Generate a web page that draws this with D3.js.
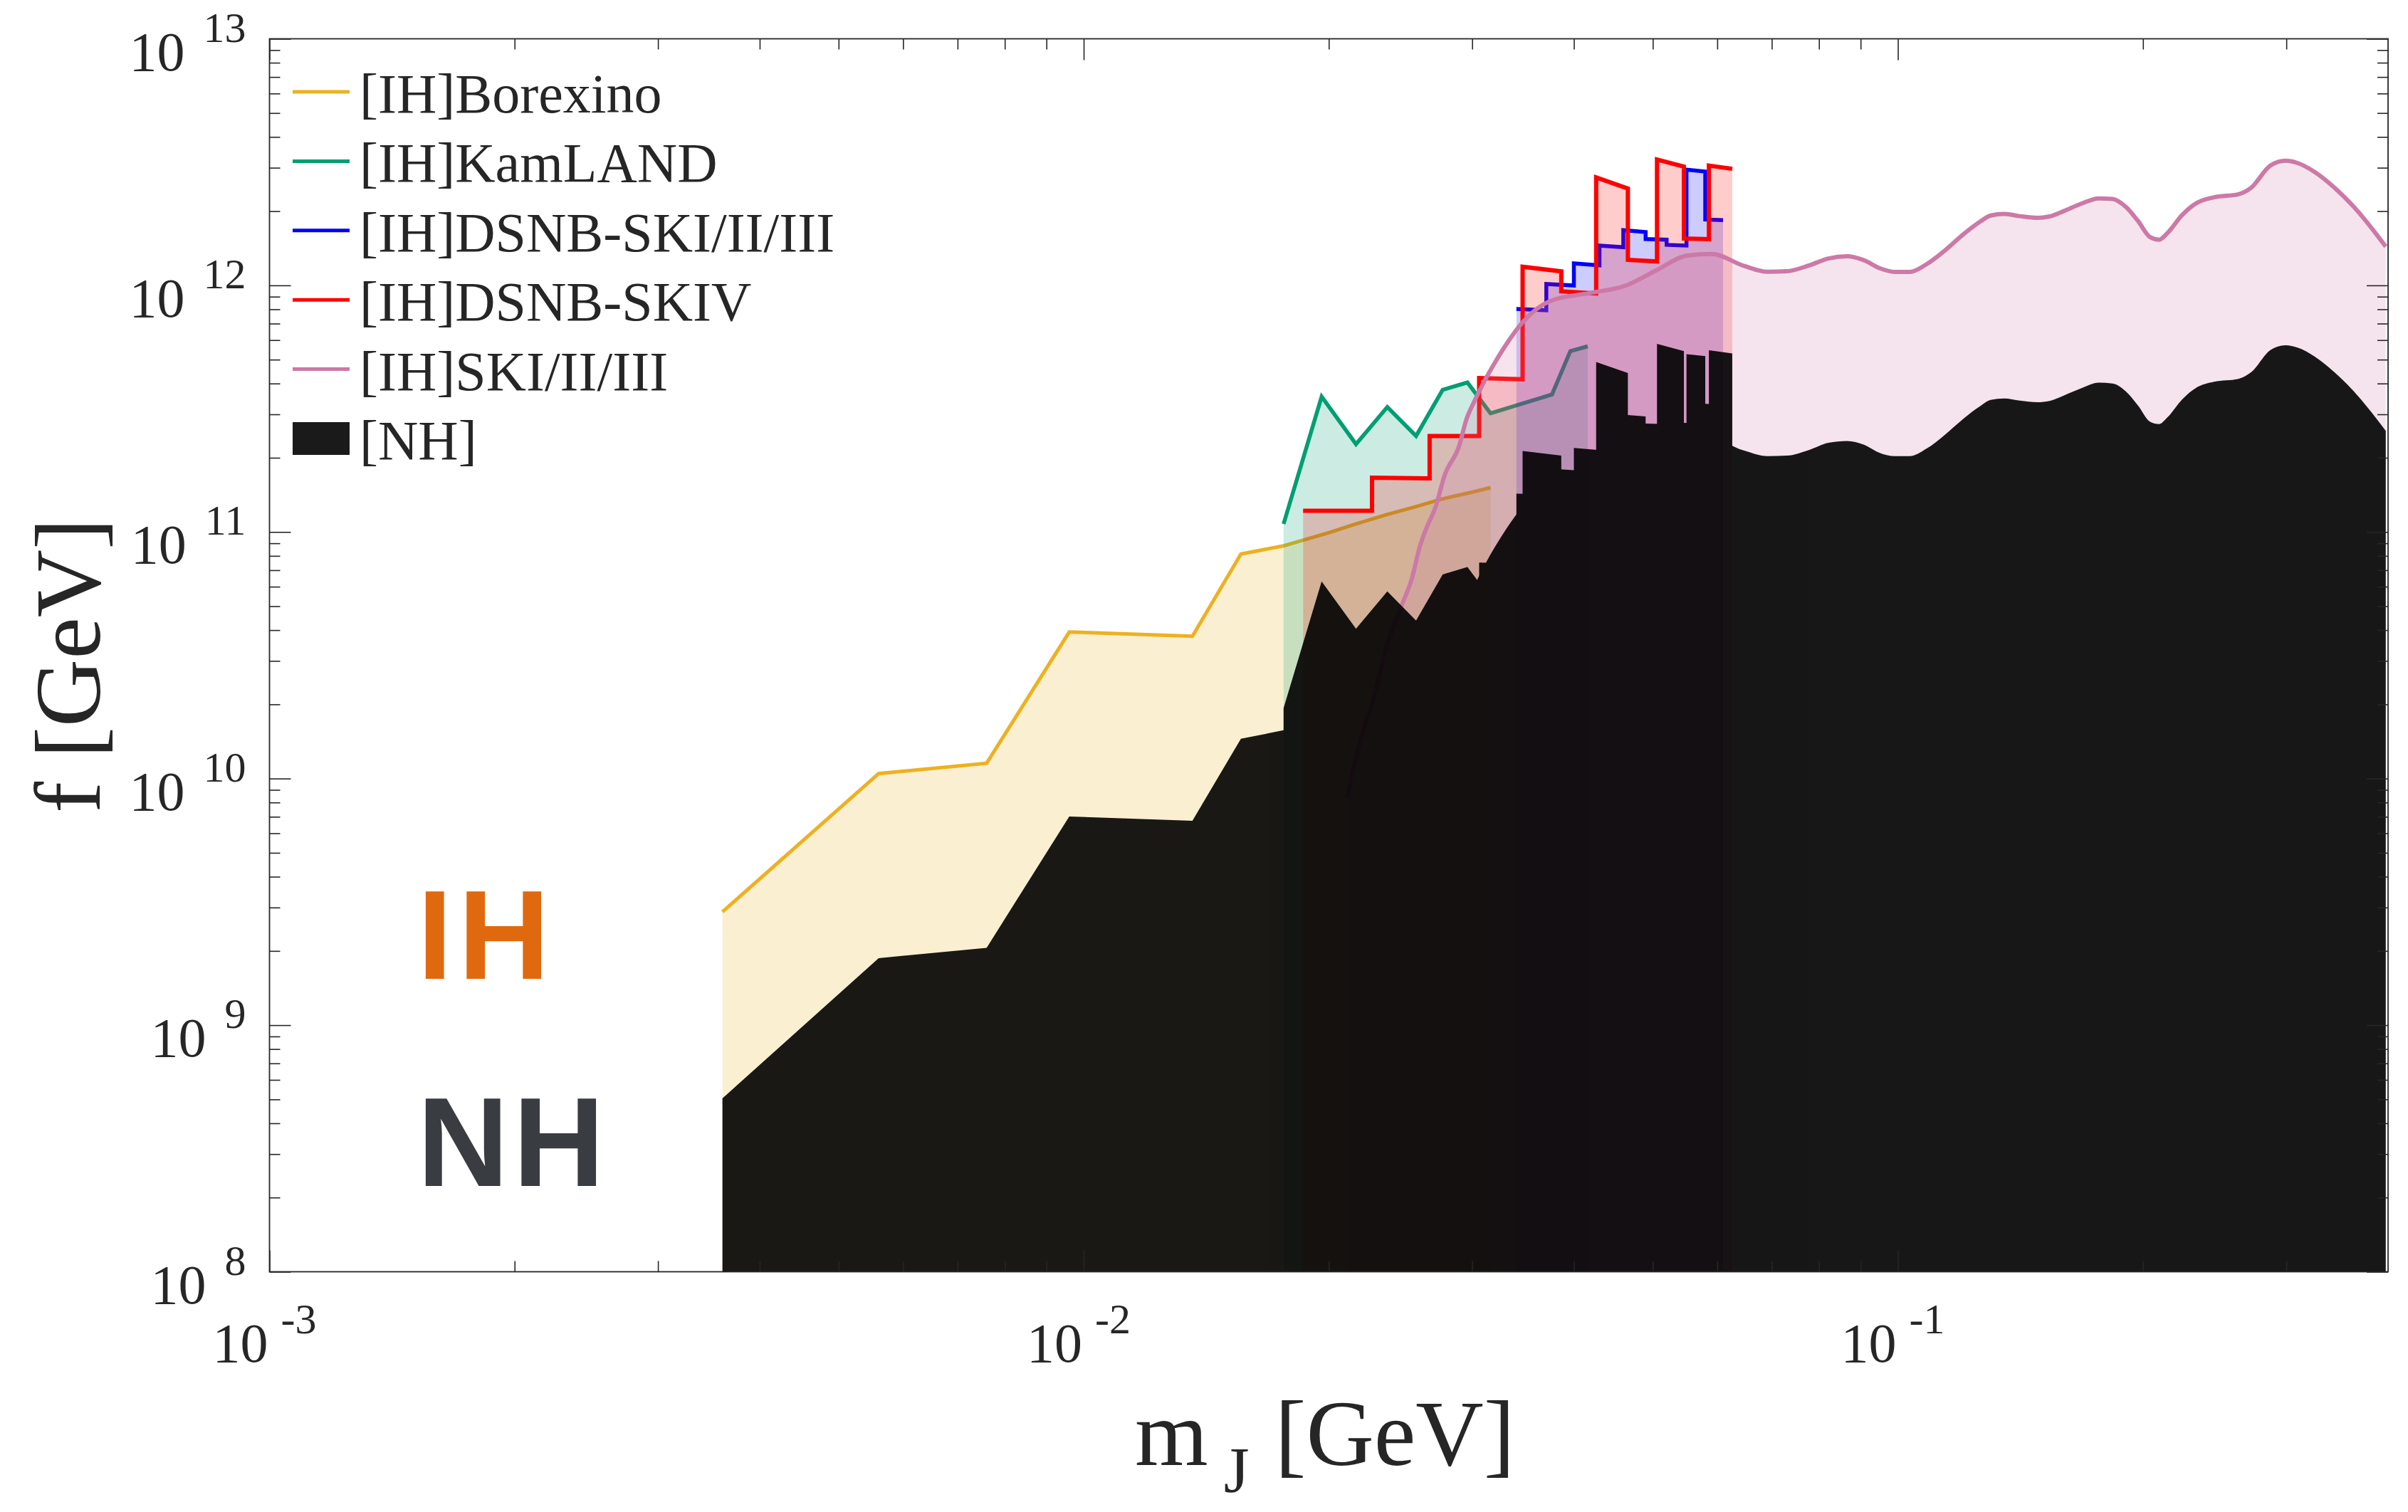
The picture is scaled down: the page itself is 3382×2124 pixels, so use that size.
<!DOCTYPE html>
<html>
<head>
<meta charset="utf-8">
<script src="https://cdn.jsdelivr.net/npm/d3@7"></script>
<style>
html, body { margin: 0; padding: 0; background: #fff; }
text { font-family: "Liberation Serif", "Times New Roman", serif; fill: #262626; }
</style>
</head>
<body>
<svg id="chart" width="3382" height="2124"></svg>
<script>
// ---- data (m_J in GeV, f in GeV) ----
const seriesNames = ["[IH]Borexino", "[IH]KamLAND", "[IH]DSNB-SKI/II/III", "[IH]DSNB-SKIV", "[IH]SKI/II/III", "[NH]"];
const seriesColors = ["#EDB120", "#009E73", "#0000FF", "#FF0000", "#CC79A7"];
const xDomain = [1e-3, 0.4];
const yDomain = [1e8, 1e13];
const xMajor = [1e-3, 1e-2, 1e-1];
const yMajor = [1e8, 1e9, 1e10, 1e11, 1e12, 1e13];
const xExponents = ["-3", "-2", "-1"];
const yExponents = ["8", "9", "10", "11", "12", "13"];

const borexinoIH = [[0.0036, 2.88e9], [0.0056, 1.048e10], [0.0076, 1.154e10], [0.0096, 3.93e10], [0.0136, 3.78e10],
  [0.0156, 8.14e10], [0.0176, 8.79e10], [0.0200, 9.93e10], [0.0214, 1.069e11], [0.0236, 1.178e11],
  [0.0256, 1.267e11], [0.0276, 1.363e11], [0.0299, 1.447e11], [0.0316, 1.513e11]];
const borexinoNH = [[0.0036, 5.05e8], [0.0056, 1.87e9], [0.0076, 2.06e9], [0.0096, 7.02e9], [0.0136, 6.74e9],
  [0.0156, 1.45e10], [0.0176, 1.57e10], [0.0200, 1.77e10], [0.0214, 1.91e10], [0.0236, 2.10e10],
  [0.0256, 2.26e10], [0.0276, 2.43e10], [0.0299, 2.58e10], [0.0316, 2.70e10]];

const kamlandIH = [[0.0176, 1.078e11], [0.0196, 3.54e11], [0.0216, 2.27e11], [0.0236, 3.21e11], [0.0256, 2.45e11],
  [0.0276, 3.77e11], [0.0296, 4.04e11], [0.0316, 3.03e11], [0.0376, 3.61e11], [0.0396, 5.41e11], [0.0416, 5.66e11]];
const kamlandNH = [[0.0176, 1.93e10], [0.0196, 6.3e10], [0.0216, 4.05e10], [0.0236, 5.74e10], [0.0256, 4.37e10],
  [0.0276, 6.73e10], [0.0296, 7.21e10], [0.0316, 5.41e10], [0.0376, 6.45e10], [0.0396, 9.66e10], [0.0416, 1.01e11]];

const dsnbSKI_IH = [[0.034, 8.02e11], [0.037, 7.93e11], [0.037, 1.013e12], [0.040, 9.99e11], [0.040, 1.228e12],
  [0.043, 1.206e12], [0.043, 1.45e12], [0.046, 1.428e12], [0.046, 1.675e12], [0.049, 1.645e12],
  [0.049, 1.542e12], [0.052, 1.532e12], [0.052, 1.46e12], [0.055, 1.45e12], [0.055, 2.947e12],
  [0.058, 2.894e12], [0.058, 1.851e12], [0.061, 1.838e12]];
const dsnbSKI_NH = [[0.034, 1.43e11], [0.037, 1.42e11], [0.037, 1.81e11], [0.040, 1.78e11], [0.040, 2.19e11],
  [0.043, 2.15e11], [0.043, 2.59e11], [0.046, 2.55e11], [0.046, 2.99e11], [0.049, 2.94e11],
  [0.049, 2.75e11], [0.052, 2.74e11], [0.052, 2.61e11], [0.055, 2.59e11], [0.055, 5.26e11],
  [0.058, 5.17e11], [0.058, 3.31e11], [0.061, 3.28e11]];

const dsnbSKIV_IH = [[0.0186, 1.22e11], [0.0226, 1.22e11], [0.0226, 1.66e11], [0.0266, 1.65e11], [0.0266, 2.45e11],
  [0.0306, 2.45e11], [0.0306, 4.21e11], [0.0346, 4.16e11], [0.0346, 1.19e12], [0.0386, 1.14e12],
  [0.0386, 9.46e11], [0.0426, 9.27e11], [0.0426, 2.74e12], [0.0466, 2.47e12], [0.0466, 1.27e12],
  [0.0506, 1.25e12], [0.0506, 3.24e12], [0.0546, 3.03e12], [0.0546, 1.55e12], [0.0586, 1.54e12],
  [0.0586, 3.06e12], [0.0626, 2.97e12]];
const dsnbSKIV_NH = [[0.0186, 2.18e10], [0.0226, 2.18e10], [0.0226, 2.96e10], [0.0266, 2.95e10], [0.0266, 4.38e10],
  [0.0306, 4.38e10], [0.0306, 7.52e10], [0.0346, 7.43e10], [0.0346, 2.13e11], [0.0386, 2.04e11],
  [0.0386, 1.69e11], [0.0426, 1.66e11], [0.0426, 4.89e11], [0.0466, 4.41e11], [0.0466, 2.27e11],
  [0.0506, 2.23e11], [0.0506, 5.79e11], [0.0546, 5.41e11], [0.0546, 2.77e11], [0.0586, 2.75e11],
  [0.0586, 5.46e11], [0.0626, 5.30e11]];

const skiIH = [[0.02108, 8.40e9], [0.02201, 1.542e10], [0.02270, 2.094e10], [0.02359, 3.482e10], [0.02462, 5.11e10],
  [0.02529, 6.45e10], [0.02589, 8.79e10], [0.02633, 1.027e11], [0.02703, 1.254e11], [0.02777, 1.709e11],
  [0.02891, 2.229e11], [0.02950, 2.846e11], [0.03020, 3.398e11], [0.03113, 4.147e11], [0.03197, 4.842e11],
  [0.03306, 5.784e11], [0.03464, 7.12e11], [0.03743, 8.65e11], [0.04181, 9.31e11], [0.04618, 9.95e11],
  [0.05045, 1.149e12], [0.05512, 1.321e12], [0.05906, 1.341e12], [0.06466, 1.201e12], [0.06914, 1.136e12],
  [0.07304, 1.141e12], [0.07774, 1.204e12], [0.08217, 1.286e12], [0.08660, 1.312e12], [0.09088, 1.264e12],
  [0.09511, 1.172e12], [0.09910, 1.134e12], [0.1034, 1.134e12], [0.1085, 1.220e12], [0.1139, 1.375e12],
  [0.1205, 1.617e12], [0.1264, 1.821e12], [0.1300, 1.920e12], [0.1351, 1.950e12], [0.1412, 1.909e12],
  [0.1484, 1.879e12], [0.1536, 1.904e12], [0.1600, 2.003e12], [0.1681, 2.146e12], [0.1765, 2.254e12],
  [0.1835, 2.241e12], [0.1905, 2.082e12], [0.1973, 1.821e12], [0.2041, 1.570e12], [0.2094, 1.533e12],
  [0.2142, 1.627e12], [0.2235, 1.932e12], [0.2330, 2.163e12], [0.2446, 2.278e12], [0.2620, 2.343e12],
  [0.2715, 2.488e12], [0.2868, 3.061e12], [0.2992, 3.201e12], [0.3096, 3.135e12], [0.3249, 2.885e12],
  [0.3438, 2.488e12], [0.3660, 2.022e12], [0.3840, 1.667e12], [0.3974, 1.437e12]];
const skiNH = [[0.02108, 1.50e9], [0.02201, 2.75e9], [0.02270, 3.74e9], [0.02359, 6.22e9], [0.02462, 9.13e9],
  [0.02529, 1.15e10], [0.02589, 1.57e10], [0.02633, 1.83e10], [0.02703, 2.24e10], [0.02777, 3.05e10],
  [0.02891, 3.98e10], [0.02950, 5.08e10], [0.03020, 6.07e10], [0.03113, 7.41e10], [0.03197, 8.65e10],
  [0.03306, 1.033e11], [0.03464, 1.271e11], [0.03743, 1.545e11], [0.04181, 1.663e11], [0.04618, 1.777e11],
  [0.05045, 2.05e11], [0.05512, 2.36e11], [0.05906, 2.39e11], [0.06466, 2.14e11], [0.06914, 2.03e11],
  [0.07304, 2.04e11], [0.07774, 2.15e11], [0.08217, 2.30e11], [0.08660, 2.34e11], [0.09088, 2.26e11],
  [0.09511, 2.09e11], [0.09910, 2.03e11], [0.1034, 2.03e11], [0.1085, 2.18e11], [0.1139, 2.46e11],
  [0.1205, 2.89e11], [0.1264, 3.25e11], [0.1300, 3.43e11], [0.1351, 3.48e11], [0.1412, 3.41e11],
  [0.1484, 3.36e11], [0.1536, 3.40e11], [0.1600, 3.58e11], [0.1681, 3.83e11], [0.1765, 4.03e11],
  [0.1835, 4.00e11], [0.1905, 3.72e11], [0.1973, 3.25e11], [0.2041, 2.80e11], [0.2094, 2.74e11],
  [0.2142, 2.91e11], [0.2235, 3.45e11], [0.2330, 3.86e11], [0.2446, 4.07e11], [0.2620, 4.18e11],
  [0.2715, 4.44e11], [0.2868, 5.47e11], [0.2992, 5.72e11], [0.3096, 5.60e11], [0.3249, 5.15e11],
  [0.3438, 4.44e11], [0.3660, 3.61e11], [0.3840, 2.98e11], [0.3974, 2.57e11]];

// ---- layout ----
const svg = d3.select("#chart");
const plot = { left: 378.5, top: 54.5, right: 3354, bottom: 1786.5 };
const axisColor = "#262626";

const x = d3.scaleLog().domain(xDomain).range([plot.left, plot.right]);
const y = d3.scaleLog().domain(yDomain).range([plot.bottom, plot.top]);

svg.append("defs").append("clipPath").attr("id", "plotClip")
  .append("rect")
  .attr("x", plot.left).attr("y", plot.top)
  .attr("width", plot.right - plot.left).attr("height", plot.bottom - plot.top);

const plotG = svg.append("g").attr("clip-path", "url(#plotClip)");

const ihSeries = [
  { data: borexinoIH, color: seriesColors[0], width: 5, curve: d3.curveLinear },
  { data: kamlandIH, color: seriesColors[1], width: 5.5, curve: d3.curveLinear },
  { data: dsnbSKI_IH, color: seriesColors[2], width: 5.5, curve: d3.curveLinear },
  { data: dsnbSKIV_IH, color: seriesColors[3], width: 6, curve: d3.curveLinear },
  { data: skiIH, color: seriesColors[4], width: 6, curve: d3.curveMonotoneX }
];
const nhSeries = [
  { data: borexinoNH, curve: d3.curveLinear },
  { data: kamlandNH, curve: d3.curveLinear },
  { data: dsnbSKI_NH, curve: d3.curveLinear },
  { data: dsnbSKIV_NH, curve: d3.curveLinear },
  { data: skiNH, curve: d3.curveMonotoneX }
];

const areaFor = curve => d3.area()
  .x(d => x(d[0]))
  .y0(y(yDomain[0]))
  .y1(d => y(d[1]))
  .curve(curve);
const lineFor = curve => d3.line()
  .x(d => x(d[0]))
  .y(d => y(d[1]))
  .curve(curve);

// IH bands: translucent fill + boundary line, in legend order
ihSeries.forEach(s => {
  plotG.append("path")
    .datum(s.data)
    .attr("d", areaFor(s.curve))
    .attr("fill", s.color)
    .attr("fill-opacity", 0.2);
  plotG.append("path")
    .datum(s.data)
    .attr("d", lineFor(s.curve))
    .attr("fill", "none")
    .attr("stroke", s.color)
    .attr("stroke-width", s.width);
});

// NH region: union of all NH bands, one dark layer
const nhG = plotG.append("g").attr("opacity", 0.9);
nhSeries.forEach(s => {
  nhG.append("path")
    .datum(s.data)
    .attr("d", areaFor(s.curve))
    .attr("fill", "#000");
});

// ---- axes (box with inward ticks on all sides) ----
const xMinor = [];
[-3, -2, -1].forEach(e => d3.range(2, 10).forEach(k => {
  const v = k * Math.pow(10, e);
  if (v < xDomain[1]) xMinor.push(v);
}));
const yMinor = [];
[8, 9, 10, 11, 12].forEach(e => d3.range(2, 10).forEach(k => yMinor.push(k * Math.pow(10, e))));

function tickAxis(axis, translate) {
  const g = svg.append("g")
    .attr("transform", translate)
    .attr("color", axisColor)
    .call(axis);
  g.select(".domain").remove();
  g.selectAll("line").attr("stroke-width", 1.6);
  return g;
}
[[xMajor, 30], [xMinor, 15]].forEach(([vals, len]) => {
  tickAxis(d3.axisBottom(x).tickValues(vals).tickSize(-len).tickFormat(""), `translate(0,${plot.bottom})`);
  tickAxis(d3.axisTop(x).tickValues(vals).tickSize(-len).tickFormat(""), `translate(0,${plot.top})`);
});
[[yMajor, 30], [yMinor, 15]].forEach(([vals, len]) => {
  tickAxis(d3.axisLeft(y).tickValues(vals).tickSize(-len).tickFormat(""), `translate(${plot.left},0)`);
  tickAxis(d3.axisRight(y).tickValues(vals).tickSize(-len).tickFormat(""), `translate(${plot.right},0)`);
});

svg.append("rect")
  .attr("x", plot.left).attr("y", plot.top)
  .attr("width", plot.right - plot.left).attr("height", plot.bottom - plot.top)
  .attr("fill", "none")
  .attr("stroke", axisColor)
  .attr("stroke-width", 1.8);

// tick labels: 10 with raised exponent
const yLabels = svg.append("g");
yMajor.forEach((v, i) => {
  const t = yLabels.append("text")
    .attr("x", plot.left - 33)
    .attr("y", y(v) + 44)
    .attr("text-anchor", "end")
    .attr("font-size", 78);
  t.append("tspan").text("10");
  t.append("tspan").attr("dx", 26).attr("dy", -40).attr("font-size", 60).text(yExponents[i]);
});

const xLabels = svg.append("g");
xMajor.forEach((v, i) => {
  const t = xLabels.append("text")
    .attr("x", x(v) - 7)
    .attr("y", plot.bottom + 126)
    .attr("text-anchor", "middle")
    .attr("font-size", 78);
  t.append("tspan").text("10");
  t.append("tspan").attr("dx", 18).attr("dy", -40).attr("font-size", 60).text(xExponents[i]);
});

// axis titles
const xTitle = svg.append("text")
  .attr("x", 1594)
  .attr("y", 2058)
  .attr("font-size", 132);
xTitle.append("tspan").text("m");
xTitle.append("tspan").attr("dx", 22).attr("dy", 38).attr("font-size", 92).text("J");
xTitle.append("tspan").attr("dx", 36).attr("dy", -38).text("[GeV]");

svg.append("text")
  .attr("transform", "translate(140,935) rotate(-90)")
  .attr("text-anchor", "middle")
  .attr("font-size", 132)
  .text("f [GeV]");

// ---- legend ----
const legend = svg.append("g").attr("transform", "translate(411,129)");
const legendStep = 97.4;
seriesNames.forEach((name, i) => {
  const gy = i * legendStep;
  if (i < seriesColors.length) {
    legend.append("line")
      .attr("x1", 0).attr("x2", 80)
      .attr("y1", gy).attr("y2", gy)
      .attr("stroke", seriesColors[i])
      .attr("stroke-width", 5);
  } else {
    legend.append("rect")
      .attr("x", 0).attr("y", gy - 23)
      .attr("width", 80).attr("height", 46)
      .attr("fill", "#1a1a1a");
  }
  legend.append("text")
    .attr("x", 94)
    .attr("y", gy + 29)
    .attr("font-size", 78)
    .attr("fill", "#000")
    .text(name);
});

// ---- hierarchy tags ----
svg.append("text")
  .attr("x", 586).attr("y", 1375)
  .style("font-family", "'Liberation Sans', Arial, sans-serif")
  .style("font-weight", "bold")
  .style("letter-spacing", "8px")
  .attr("font-size", 178)
  .style("fill", "#E0690F")
  .text("IH");
svg.append("text")
  .attr("x", 586).attr("y", 1666)
  .style("font-family", "'Liberation Sans', Arial, sans-serif")
  .style("font-weight", "bold")
  .style("letter-spacing", "6px")
  .attr("font-size", 178)
  .style("fill", "#393C41")
  .text("NH");
</script>
</body>
</html>
